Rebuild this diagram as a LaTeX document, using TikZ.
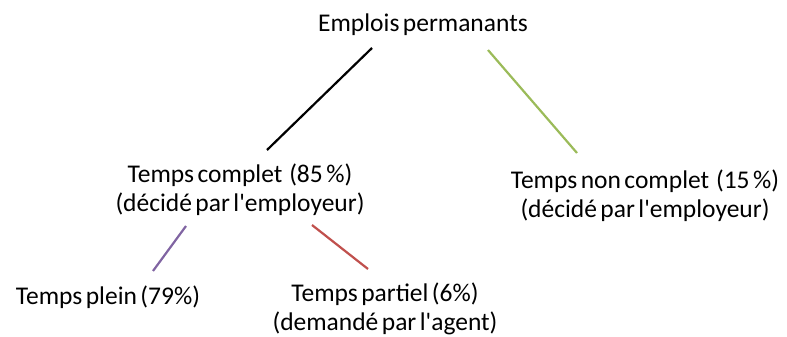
\documentclass[tikz,border=0pt]{standalone}
\usepackage{fontspec}
\setmainfont{Carlito}[WordSpace=0.6]
\definecolor{violet1}{HTML}{8064A2}
\definecolor{rouge1}{HTML}{C0504D}
\definecolor{vert1}{HTML}{9BBB59}
\newcommand{\apos}{\textquotesingle}
\begin{document}
\begin{tikzpicture}[x=1pt,y=1pt]\tikzstyle{every node} = [align=center,inner sep=0pt,font=\fontsize{25.5}{29}\selectfont]
      \useasboundingbox (0,0) rectangle (787,337);
      \node (emplois) at (423,312) {Emplois permanants};

      \node (complet) at (240,147) {Temps complet \ (85 \%)\\(décidé par l\apos employeur)};
      \node (noncomplet) at (645,141) {Temps non complet \ (15 \%)\\(décidé par l\apos employeur)};

      \node (plein) at (108,40) {Temps plein (79\%)};
      \node (partiel) at (385,28) {Temps partiel (6\%)\\(demandé par l\apos agent)};

      \coordinate (e1) at (372,289); \coordinate (c1) at (267,187);
      \coordinate (e2) at (488,287); \coordinate (n1) at (577,184);
      \coordinate (c2) at (186,111); \coordinate (p1) at (153,66);
      \coordinate (c3) at (312,112); \coordinate (p2) at (368,68);

      \draw[line width=2.2pt] (e1) -- (c1);
      \draw[line width=2.2pt,vert1] (e2) -- (n1);
      \draw[line width=2.2pt,violet1] (c2) -- (p1);
      \draw[line width=2.2pt,rouge1] (c3) -- (p2);
    \end{tikzpicture}
\end{document}
